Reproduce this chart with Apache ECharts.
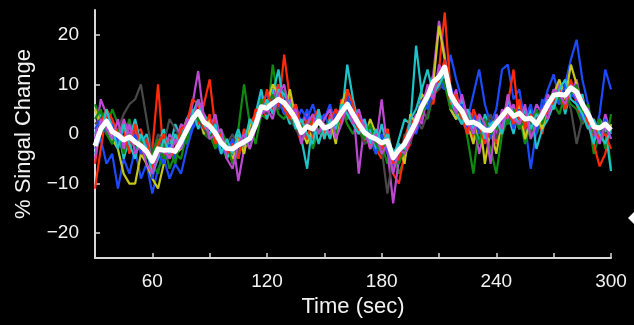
<!DOCTYPE html>
<html>
<head>
<meta charset="utf-8">
<script src="https://cdn.jsdelivr.net/npm/echarts@6/dist/echarts.min.js"></script>
<style>
  html, body { margin: 0; padding: 0; background: #000; }
  #chart { width: 634px; height: 325px; }
</style>
</head>
<body>
<div id="chart"></div>
<script>
// time axis: one sample every 3 s, 30..300
var times = [];
for (var i = 0; i <= 90; i++) times.push(30 + i * 3);

var yTicks = [-20, -10, 0, 10, 20];

// mean signal (white)
var meanSig = [
  -2.4, 1.0, 2.6, 0.5, -0.2, -1.2, -0.6, -1.6, -2.4, -3.5,
  -5.5, -3.0, -3.3, -3.2, -3.5, -1.5, 0.8, 3.0, 4.5, 2.4,
  1.6, 0.2, -1.8, -2.9, -3.0, -2.2, -1.6, -0.9, 1.8, 5.5,
  5.2, 6.2, 7.0, 6.3, 4.8, 3.0, 0.3, 1.5, 1.0, 2.6,
  1.2, 1.6, 2.6, 4.4, 6.0, 4.0, 2.0, 0.3, -0.5, -1.0,
  -1.8, -1.4, -4.8, -3.2, -2.0, 0.2, 2.5, 5.5, 7.6, 10.5,
  11.5, 13.5, 8.0, 6.0, 4.6, 2.2, 2.4, 1.8, 0.8, 0.7,
  2.2, 3.6, 5.0, 3.6, 4.2, 3.0, 3.2, 2.0, 3.8, 6.0,
  7.8, 8.0, 7.8, 9.3, 8.5, 6.0, 4.0, 1.5, 1.2, 2.0,
  0.8
];

// individual traces
var blue1 = [
  -3, -1, -6, -4, -11, -5, -8, -3, -9, -6,
  -12, -7, -5, -9, -6, -8, -3, 1, 3, 0,
  2, -1, -4, -2, -5, -1, -3, 1, 4, 8,
  6, 9, 5, 8, 3, 6, 2, 5, 0, 4,
  3, 6, 1, 4, 7, 3, 5, 0, 2, -3,
  -1, -4, -3, -6, -1, 2, 0, 4, 6, 8,
  10, 9, 16, 11, 7, 3, 8, 13, 6, 2,
  5, 13, 14, 7, 9, 2, -7, 1, 5, 9,
  12, 7, 10, 15, 19, 11, 6, -1, 4, 13,
  9
];
var green1 = [
  6, 3, 1, 5, 2, -1, 3, -2, 0, -4,
  -6, -8, -2, -7, -4, -5, 0, 2, 4, 0,
  -1, 3, -2, -5, -3, 1, 10, 2, -2, 4,
  3, 14, 6, 9, 2, 5, -1, 3, -3, 1,
  2, -1, 3, 5, 2, 0, 3, -2, -1, -4,
  -2, -6, -3, -8, -5, -1, 2, 5, 3, 8,
  10, 12, 7, 3, 5, -1, -8, 2, 0, -3,
  -8, 0, 3, 1, 4, -2, 2, 0, 3, 5,
  6, 4, 8, 6, 5, 2, 4, -4, 0, 3,
  -7
];
var red1 = [
  -11, -3, 4, 2, -1, 3, -2, 0, 1, -4,
  -3, 10, -5, -1, -2, 0, 3, 5, 2, 6,
  11, 1, -3, -1, -6, 0, -4, 2, 4, 6,
  3, 8, 5, 16, 7, 2, -2, 4, -1, 3,
  -1, 4, 0, 7, 5, 2, 4, -2, 1, -3,
  -5, 0, -8, -10, -4, -2, 4, 3, 8, 6,
  13, 24.5, 9, 5, 2, 4, -1, 3, 0, 2,
  -2, 4, 6, 13, 2, 5, 1, 4, 0, 6,
  5, 10, 7, 11, 6, 3, 4, -2, -6.5, -4,
  2
];
var cyan1 = [
  0, 4, 2, -2, 1, -5, -1, 3, -2, 0,
  -4, -2, 1, -3, 2, -1, 3, 5, 1, 4,
  2, -2, 0, -5, -2, 1, -3, 0, 4, 9,
  3, 8, 13, 5, 2, 6, -1, -7, 3, -2,
  2, -1, 5, 3, 14, 7, 2, -1, 1, -3,
  2, -3, -5, -1, 3, 2, 17.8, 8, 6, 11,
  9, 14, 5, 3, 7, 0, 3, -2, 4, 1,
  -1, 2, 4, 0, 6, 2, 5, -3, 1, 3,
  6, 10, 4, 9, 7, 8, 2, -2, 3, 1,
  -7.5
];
var magenta1 = [
  -1, 7, 4, 2, -2, 3, 0, 1, -3, -1,
  -6, -1, -4, 0, -2, 2, 1, 6, 12.7, 3,
  1, 4, -2, -4, -1, -9.5, -3, 0, 2, 6,
  4, 7, 10, 5, 7, 3, 2, 4, 1, 3,
  2, 0, 4, 5, 3, 6, -8, 2, 0, -2,
  7, -3, -14, -5, -1, 1, 4, 2, 8, 12,
  22.8, 16, 6, 9, 2, 5, 3, -4, 1, 2,
  0, 5, 3, 6, 1, 4, 2, 6, 4, 8,
  6, 10, 9, 8, 11, 5, 2, 0, -1, 4,
  0
];
var yellow1 = [
  5, 2, 3, -1, -3, -8, -10, -10, -4, -6,
  -9, -11, -6, -2, -4, -3, 1, 3, 5, 0,
  3, -1, 0, -3, -5, -1, -4, 2, 1, 7,
  6, 10, 8, 4, 9, 3, 1, -2, 2, 4,
  0, 3, -2, 6, 9, 4, 2, -1, 3, 0,
  -3, 1, -5, -2, -6, 4, 2, 8, 7, 10,
  21.8, 15, 5, 3, 6, 2, -2, 4, -6, 1,
  -4, 3, 5, 2, 6, -1, 3, 4, 1, 6,
  8, 11, 7, 14, 10, 5, 3, 1, 0, -2,
  2
];
var gray1 = [
  2, 3, 5, 0, 1, 4, 6, 7, 10, 3,
  -4, 0, -2, 3, 1, -1, 2, 4, 3, 1,
  -1, 2, -3, -2, 0, -4, 1, -2, 3, 5,
  4, 7, 5, 6, 3, 1, -1, 2, 0, 3,
  1, 2, 4, 2, 5, 3, 1, -2, 0, -1,
  -3, -12, -4, -6, 0, -2, 3, 1, 4, 8,
  9, 11, 6, 4, 5, 2, 0, 3, 1, 4,
  -1, 3, 2, 5, 1, 4, 2, 3, 5, 4,
  7, 6, 8, 5, -2, 3, 4, 2, 1, 0,
  1
];
var blue2 = [
  1, 3, 0, 2, -2, 1, -3, 0, -4, -2,
  -9, -4, -6, -2, -5, -1, -2, 2, 5, 3,
  0, 2, -3, -4, -1, -5, 0, -2, 3, 6,
  8, 5, 7, 4, 6, 2, 5, 3, 6, 2,
  4, 1, 5, 3, 8, 5, 1, 3, -1, -4,
  0, -3, -7, -2, -4, 1, 3, 7, 5, 10,
  12, 9, 10, 5, 6, 1, 4, 0, 3, -1,
  4, 2, 6, 1, 5, 3, 6, 0, 7, 5,
  9, 6, 10, 8, 7, 3, 5, 2, -1, 3,
  -1
];
var green2 = [
  3, 5, 0, -2, 1, -4, 0, -3, -1, -5,
  -4, -1, -5, -3, -6, 0, -2, 4, 3, 2,
  0, -3, 1, -2, -6, -4, -1, -3, 2, 7,
  5, 8, 4, 3, 6, 1, 2, -1, 4, 0,
  1, 3, 0, 6, 3, 5, 1, -1, 2, -2,
  -4, -1, -4, -6, -3, 0, 3, 4, 7, 9,
  12, 10, 5, 7, 3, 4, 1, -2, 3, 0,
  1, 4, 2, 5, 1, 3, 0, 5, 2, 6,
  9, 7, 5, 8, 10, 4, 6, 0, 3, -3,
  4
];
var red2 = [
  -6, 2, 5, 3, 0, 1, -4, 2, -3, -1,
  -7, -2, 0, -5, -3, 1, 2, 7, 6, 1,
  4, -2, 0, -4, -2, -5, 1, -1, 5, 4,
  9, 4, 10, 5, 3, 6, 1, -1, 3, 5,
  0, 3, 5, 2, 9, 6, 0, 2, -3, 1,
  -3, 1, -6, -5, -1, 3, 1, 6, 9, 7,
  11, 15, 6, 8, 3, 0, 5, 2, -2, 1,
  3, 1, 5, 2, 7, 1, 4, 2, 5, 4,
  7, 9, 5, 10, 8, 7, 2, 3, -1, 0,
  -3
];
var cyan2 = [
  -4, 0, 5, 1, -3, 2, -2, -5, 0, -3,
  -8, -5, -1, -4, 0, -3, 1, 4, 7, 2,
  0, 2, -4, -1, -4, 0, -2, 3, 1, 4,
  7, 4, 9, 8, 6, 1, 3, 0, -2, 5,
  -1, 3, 1, 6, 4, 2, 0, 3, -2, 1,
  -2, 0, -4, -2, -3, 3, 5, 9, 13, 8,
  10, 12, 7, 4, 2, 5, 1, 3, -1, 2,
  3, 0, 7, 4, 2, 5, 1, 4, 3, 7,
  5, 9, 11, 7, 6, 4, 1, 3, 0, -2,
  1
];
var magenta2 = [
  -5, 3, 1, -1, 3, -3, 2, -4, -2, -6,
  -8, -4, -3, -5, -1, -3, 3, 2, 7, 4,
  -1, 0, 1, -5, -7, -2, 0, -3, 1, 4,
  5, 3, 8, 10, 4, 5, -2, 2, 4, 0,
  3, 5, -1, 2, 6, 2, 5, 1, -3, 0,
  -4, -2, -8, -3, -4, -1, 1, 5, 10, 7,
  14, 12, 9, 4, 8, 3, 0, 4, 2, -6,
  4, 1, 8, 3, 2, 6, -1, 2, 5, 3,
  9, 8, 6, 10, 7, 6, 5, 1, -2, 2,
  -1
];

var traces = [
  { data: blue1, color: '#1c4bff' },
  { data: green1, color: '#0f8a10' },
  { data: red1, color: '#ff2a0a' },
  { data: cyan1, color: '#1ec4c8' },
  { data: magenta1, color: '#bd48d2' },
  { data: yellow1, color: '#c6c61c' },
  { data: gray1, color: '#484848' },
  { data: blue2, color: '#1c4bff' },
  { data: green2, color: '#0f8a10' },
  { data: red2, color: '#ff2a0a' },
  { data: cyan2, color: '#1ec4c8' },
  { data: magenta2, color: '#bd48d2' }
];

function pairs(vals) {
  return times.map(function (t, i) { return [t, vals[i]]; });
}

var series = traces.map(function (tr) {
  return {
    type: 'line',
    data: pairs(tr.data),
    showSymbol: false,
    lineStyle: { color: tr.color, width: 2.2 },
    z: 2
  };
});
series.push({
  type: 'line',
  data: pairs(meanSig),
  showSymbol: false,
  lineStyle: { color: '#ffffff', width: 5, join: 'round' },
  z: 5
});

var chart = echarts.init(document.getElementById('chart'));
chart.setOption({
  backgroundColor: '#000',
  animation: false,
  grid: { left: 95, right: 23, top: 10, bottom: 67 },
  xAxis: {
    type: 'value',
    min: 30,
    max: 300,
    interval: 30,
    name: 'Time (sec)',
    nameLocation: 'middle',
    nameGap: 37,
    nameTextStyle: { color: '#f2f2f2', fontSize: 22, fontFamily: 'Liberation Sans' },
    axisLine: { onZero: false, lineStyle: { color: '#d8d8d8', width: 2 } },
    axisTick: { inside: true, length: 5, lineStyle: { color: '#d8d8d8', width: 1.5 } },
    axisLabel: {
      color: '#f2f2f2', fontSize: 19, fontFamily: 'Liberation Sans', margin: 14,
      formatter: function (v) { return v % 60 === 0 ? String(v) : ''; }
    },
    splitLine: { show: false }
  },
  yAxis: {
    type: 'value',
    min: -25,
    max: 25,
    name: '% Singal Change',
    nameLocation: 'middle',
    nameGap: 60,
    nameTextStyle: { color: '#f2f2f2', fontSize: 22, fontFamily: 'Liberation Sans' },
    axisLine: { show: true, onZero: false, lineStyle: { color: '#d8d8d8', width: 2 } },
    axisTick: { show: true, inside: true, length: 5, customValues: yTicks, lineStyle: { color: '#d8d8d8', width: 1.5 } },
    axisLabel: {
      color: '#f2f2f2', fontSize: 19, fontFamily: 'Liberation Sans', margin: 16,
      customValues: yTicks,
      formatter: function (v) { return String(v).replace('-', '\u2212'); }
    },
    splitLine: { show: false }
  },
  graphic: [{
    type: 'polygon',
    shape: { points: [[628, 218], [634, 212], [634, 224]] },
    style: { fill: '#ffffff' }
  }],
  series: series
});
</script>
</body>
</html>
